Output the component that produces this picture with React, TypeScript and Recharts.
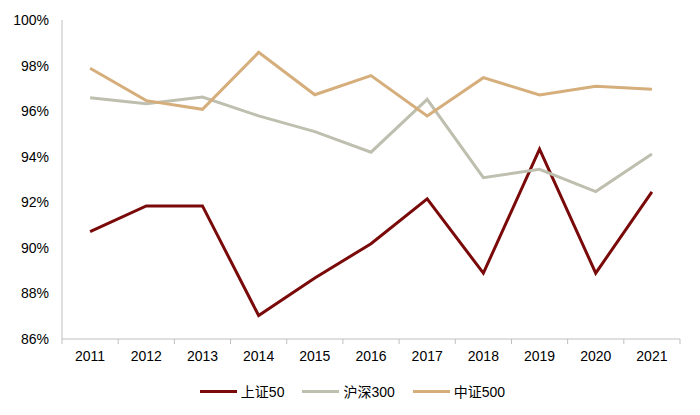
import { LineChart, Line, XAxis, YAxis, Legend } from 'recharts';

const years = [2011, 2012, 2013, 2014, 2015, 2016, 2017, 2018, 2019, 2020, 2021];
const sz50 = [90.71, 91.84, 91.84, 87.03, 88.68, 90.18, 92.15, 88.89, 94.33, 88.89, 92.46];
const hs300 = [96.59, 96.32, 96.62, 95.79, 95.1, 94.2, 96.52, 93.08, 93.45, 92.47, 94.12];
const zz500 = [97.88, 96.46, 96.08, 98.58, 96.72, 97.56, 95.79, 97.47, 96.71, 97.09, 96.96];
const yTicks = [86, 88, 90, 92, 94, 96, 98, 100];

const series = [
  { key: 'sz50', name: '上证50', color: '#7a0a0a' },
  { key: 'hs300', name: '沪深300', color: '#bfbfaf' },
  { key: 'zz500', name: '中证500', color: '#d5ae7b' },
];

const data = years.map((year, i) => ({
  year,
  sz50: sz50[i],
  hs300: hs300[i],
  zz500: zz500[i],
}));

// tick marks sit between categories, labels in the middle
const xBounds = [...years.map((y) => y - 0.5), years[years.length - 1] + 0.5];

const W = 700;
const H = 415;
const MARGIN = { top: 20, right: 20, bottom: 26, left: 0 };
const Y_W = 62;
const HALF_STEP = (W - MARGIN.left - MARGIN.right - Y_W) / years.length / 2;
const FONT = '"Liberation Sans", Arial, "Noto Sans CJK SC", sans-serif';

const XTick = (props: any) => {
  const { x, y, payload } = props;
  const label = payload.value + 0.5;
  if (label > years[years.length - 1]) return null;
  return (
    <text x={x + HALF_STEP} y={y} dy={11} textAnchor='middle' fill='#000' fontSize={14} fontFamily={FONT}>
      {label}
    </text>
  );
};

const renderLegend = () => (
  <div style={{ display: 'flex', justifyContent: 'center', height: 20, alignItems: 'center', fontFamily: FONT, fontSize: 14, color: '#000', paddingLeft: 5 }}>
    {series.map((s, i) => (
      <div key={s.key} style={{ display: 'flex', alignItems: 'center', marginRight: i < series.length - 1 ? 18 : 0 }}>
        <div style={{ width: 37, height: 3, background: s.color, marginRight: 4 }} />
        <span>{s.name}</span>
      </div>
    ))}
  </div>
);

export default function App() {
  return (
    <div style={{ margin: -8, width: W, height: H, background: '#fff' }}>
      <LineChart width={W} height={H} data={data} margin={MARGIN}>
        <XAxis
          dataKey='year'
          type='number'
          domain={[xBounds[0], xBounds[xBounds.length - 1]]}
          ticks={xBounds}
          interval={0}
          tick={<XTick />}
          tickSize={5}
          tickMargin={6}
          height={30}
          axisLine={{ stroke: '#bfbfbf' }}
          tickLine={{ stroke: '#bfbfbf' }}
        />
        <YAxis
          domain={[86, 100]}
          ticks={yTicks}
          width={Y_W}
          tickFormatter={(v) => `${v}%`}
          tick={{ fill: '#000', fontSize: 14, fontFamily: FONT }}
          tickLine={false}
          tickMargin={7}
          axisLine={{ stroke: '#bfbfbf' }}
        />
        <Legend content={renderLegend} verticalAlign='bottom' wrapperStyle={{ top: 381, left: 0, width: W }} />
        {series.map((s) => (
          <Line
            key={s.key}
            dataKey={s.key}
            name={s.name}
            stroke={s.color}
            strokeWidth={3}
            dot={false}
            isAnimationActive={false}
          />
        ))}
      </LineChart>
    </div>
  );
}
